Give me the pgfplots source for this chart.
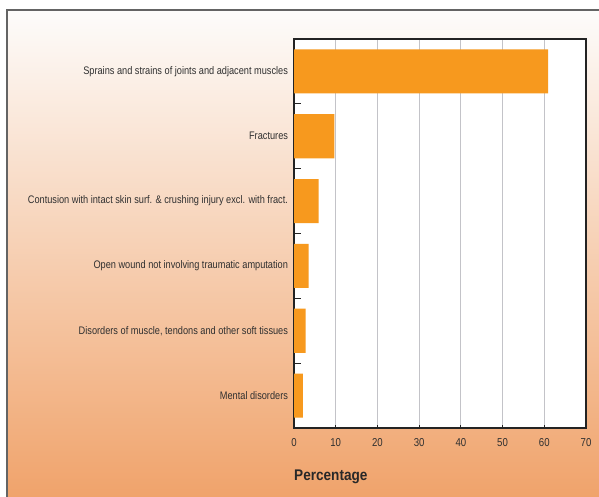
\documentclass[border=0pt]{standalone}
\usepackage{pgfplots}
\pgfplotsset{compat=1.18}
\usepackage{fontspec}
\setmainfont{Liberation Sans}[FakeStretch=0.84]
\newfontfamily\titlefont{Liberation Sans}[FakeStretch=0.88]
\definecolor{barorange}{RGB}{247,153,30}
\definecolor{bgtop}{RGB}{253,252,251}
\definecolor{bgmid}{RGB}{244,208,186}
\definecolor{bgbot}{RGB}{240,163,107}
\definecolor{txt}{RGB}{48,48,48}
\definecolor{framegray}{RGB}{100,100,100}
\definecolor{gridgray}{RGB}{195,195,200}
\begin{document}
\begin{tikzpicture}[x=1bp,y=1bp]
\useasboundingbox (0,0) rectangle (599,497);
\fill[white] (0,0) rectangle (599,497);
\shade[top color=bgtop, middle color=bgmid, bottom color=bgbot] (7,0) rectangle (599,487);
\draw[framegray, line width=1.5bp] (7,0) -- (7,487) -- (599,487);
\begin{axis}[
  at={(294bp,69bp)}, anchor=south west, scale only axis,
  width=292bp, height=389bp,
  axis background/.style={fill=white},
  xbar, bar width=0.68,
  xmin=0, xmax=70, ymin=-0.5, ymax=5.5, y dir=reverse,
  xtick={0,10,...,70},
  ytick={0,...,5},
  yticklabels={{Sprains and strains of joints and adjacent muscles},
    {Fractures},
    {Contusion with intact skin surf. \& crushing injury excl. with fract.},
    {Open wound not involving traumatic amputation},
    {Disorders of muscle, tendons and other soft tissues},
    {Mental disorders}},
  minor ytick={0.5,1.5,2.5,3.5,4.5},
  tick align=inside,
  xtick pos=bottom, ytick pos=left,
  major tick length=3.5bp,
  minor tick length=7bp,
  major y tick style={draw=none},
  minor y tick style={draw={rgb,255:red,35;green,35;blue,35}, line width=1bp},
  major x tick style={draw={rgb,255:red,35;green,35;blue,35}, line width=1bp},
  xmajorgrids,
  major grid style={gridgray, line width=1bp},
  axis line style={draw={rgb,255:red,35;green,35;blue,35}, line width=1.2bp},
  /pgf/number format/assume math mode=true,
  yticklabel style={font=\fontsize{11}{13}\selectfont, text=txt, xshift=-2.5bp},
  xticklabel style={font=\fontsize{11.5}{13}\selectfont, text=txt, yshift=-7bp},
  xlabel={\titlefont\bfseries Percentage},
  xlabel style={at={(axis description cs:0,-0.126)}, anchor=west, inner sep=0pt,
    font=\fontsize{15.5}{18}\selectfont, text={rgb,255:red,40;green,40;blue,40}},
]
\addplot[fill=barorange, draw=none] coordinates {(60.9,0) (9.7,1) (5.9,2) (3.5,3) (2.8,4) (2.1,5)};
\end{axis}
\end{tikzpicture}
\end{document}
